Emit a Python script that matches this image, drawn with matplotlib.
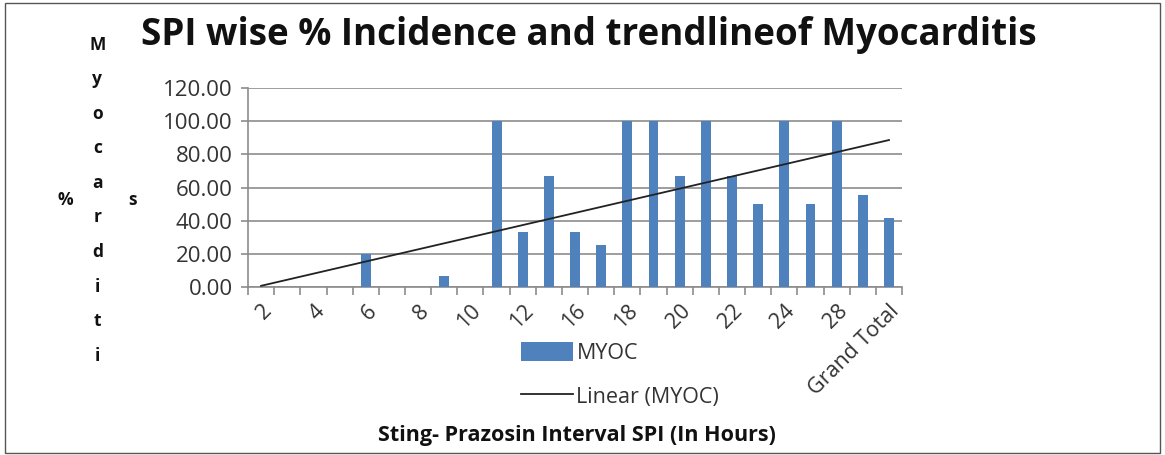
import numpy as np
import matplotlib.pyplot as plt
from matplotlib.patches import Rectangle

# SPI categories (hours); only every other one is labelled on the axis
categories = ["2", "3", "4", "5", "6", "7", "8", "9", "10", "11", "12", "14",
              "16", "17", "18", "19", "20", "21", "22", "23", "24", "26",
              "28", "30", "Grand Total"]
myoc = [0, 0, 0, 0, 20.0, 0, 0, 6.67, 0, 100.0, 33.33, 66.67,
        33.33, 25.0, 100.0, 100.0, 66.67, 100.0, 66.67, 50.0, 100.0, 50.0,
        100.0, 55.56, 41.67]
yticks = [0, 20, 40, 60, 80, 100, 120]

plt.rcParams['font.family'] = ['Open Sans', 'DejaVu Sans']

fig = plt.figure(figsize=(11.65, 4.55), dpi=100)
ax = fig.add_axes([0.2129, 0.3699, 0.5614, 0.436])

x = np.arange(len(categories))
bars = ax.bar(x, myoc, width=0.38, color="#4F81BD", zorder=3, label="MYOC")

# linear trendline like excel
k, b = np.polyfit(x, myoc, 1)
trend, = ax.plot(x, k * x + b, color="#222222", lw=1.3, zorder=4, label="Linear (MYOC)")

ax.set_xlim(-0.5, len(categories) - 0.5)
ax.set_ylim(0, 120)
ax.set_yticks(yticks)
ax.set_yticklabels(["%.2f" % v for v in yticks], fontsize=16, color="#333333")
ax.yaxis.grid(True, color="#8c8c8c", lw=1.2, zorder=0)

ax.set_xticks(x[::2])
ax.set_xticklabels(categories[::2], rotation=45, ha="right", va="top",
                   rotation_mode="anchor", fontsize=15.5, color="#333333")
ax.set_xticks(np.arange(-0.5, len(categories)), minor=True)
ax.tick_params(axis="x", which="major", length=0, pad=10)
ax.tick_params(axis="x", which="minor", length=6, color="#8c8c8c", width=1.2)
ax.tick_params(axis="y", length=5, color="#8c8c8c", width=1.2, pad=6)

for s in ["top", "right"]:
    ax.spines[s].set_visible(False)
for s in ["left", "bottom"]:
    ax.spines[s].set_color("#8c8c8c")
    ax.spines[s].set_linewidth(1.2)

fig.text(0.505, 0.922, "SPI wise % Incidence and trendlineof Myocarditis",
         ha="center", va="center", fontsize=26.5, fontweight="bold", color="#111111")

# wrapped y label as in the original
fig.text(0.0835, 0.56, "M\ny\no\nc\na\nr\nd\ni\nt\ni", ha="center", va="center",
         fontsize=12.5, fontweight="bold", linespacing=2.18, color="#111111")
fig.text(0.056, 0.56, "%", ha="center", va="center", fontsize=12.5,
         fontweight="bold", color="#111111")
fig.text(0.114, 0.56, "s", ha="center", va="center", fontsize=12.5,
         fontweight="bold", color="#111111")

fig.text(0.495, 0.042, "Sting- Prazosin Interval SPI (In Hours)", ha="center",
         va="center", fontsize=15.5, fontweight="bold", color="#111111")

fig.legend(handles=[bars, trend], loc="center left", bbox_to_anchor=(0.431, 0.176),
           frameon=False, fontsize=15.5, handlelength=2.4, handleheight=1.0,
           handletextpad=0.15, labelspacing=1.0, labelcolor="#333333")

fig.add_artist(Rectangle((0.004, 0.004), 0.992, 0.99, transform=fig.transFigure,
                         fill=False, edgecolor="#555555", lw=1))

plt.savefig("out.png", dpi=100)
